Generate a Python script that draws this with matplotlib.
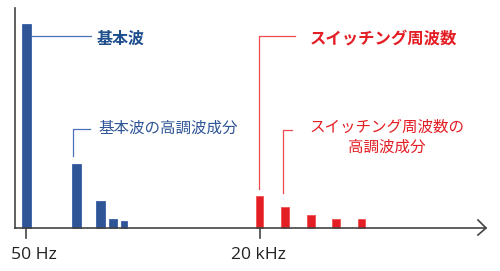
import matplotlib
matplotlib.use('Agg')
import matplotlib.pyplot as plt

plt.rcParams['font.family'] = ['Noto Sans CJK JP', 'DejaVu Sans']

# fundamental (50 Hz) and its harmonics
blue_x = [26.5, 76.5, 100.5, 113, 124]
blue_h = [204, 64, 27, 9, 7]
blue_w = [9, 9, 9, 8, 6]

# switching frequency (20 kHz) and its harmonics
red_x = [259.5, 285, 311, 336, 361.5]
red_h = [32, 21, 13, 9, 9]
red_w = [7, 8, 8, 8, 7]

tick_pos = [26, 260]
tick_labels = ['50 Hz', '20 kHz']

blue = '#2F5597'
blue_dark = '#1F4E8C'
blue_line = '#4A72B8'
red = '#E31E24'
red_line = '#EE4A4F'
axis_c = '#444444'

fig = plt.figure(figsize=(5, 2.71), dpi=100)
ax = fig.add_axes([0, 0, 1, 1])
ax.set_xlim(0, 500)
ax.set_ylim(-43, 228)
ax.axis('off')

ax.bar(blue_x, blue_h, width=blue_w, color=blue, edgecolor='#3A5FA8', linewidth=0.6, zorder=2)
ax.bar(red_x, red_h, width=red_w, color=red, edgecolor='#F05050', linewidth=0.6, zorder=2)

# axes
ax.plot([15, 15], [0, 220], color=axis_c, lw=1.2, zorder=3)
ax.plot([15, 486], [0, 0], color=axis_c, lw=1.2, zorder=3)
ax.plot([478, 486, 478], [8, 0, -7], color=axis_c, lw=1.2, zorder=3)
for xp in tick_pos:
    ax.plot([xp, xp], [0, -10], color=axis_c, lw=1.2)
ax.text(33.5, -27, tick_labels[0], family='Open Sans', fontsize=12.6, ha='center', va='center', color='#222222')
ax.text(258.5, -27, tick_labels[1], family='Open Sans', fontsize=12.6, ha='center', va='center', color='#222222')

# annotations - fundamental
ax.plot([32, 91], [192, 192], color=blue_line, lw=0.9)
ax.text(97, 189, '基本波', fontsize=11.5, fontweight='bold', color=blue_dark, ha='left', va='center')
ax.plot([73, 73, 90], [72, 99, 99], color=blue_line, lw=0.9)
ax.text(98, 100, '基本波の高調波成分', fontsize=11.2, color=blue, ha='left', va='center')

# annotations - switching
ax.plot([259, 259, 295], [39, 192, 192], color=red_line, lw=0.9)
ax.text(310, 190, 'スイッチング周波数', fontsize=11.8, fontweight='bold', color=red, ha='left', va='center')
ax.plot([283, 283, 292], [35, 98, 98], color=red_line, lw=0.9)
ax.text(387, 101, 'スイッチング周波数の', fontsize=11.2, color=red, ha='center', va='center')
ax.text(387, 81, '高調波成分', fontsize=11.2, color=red, ha='center', va='center')

fig.savefig('out.png', dpi=100)
